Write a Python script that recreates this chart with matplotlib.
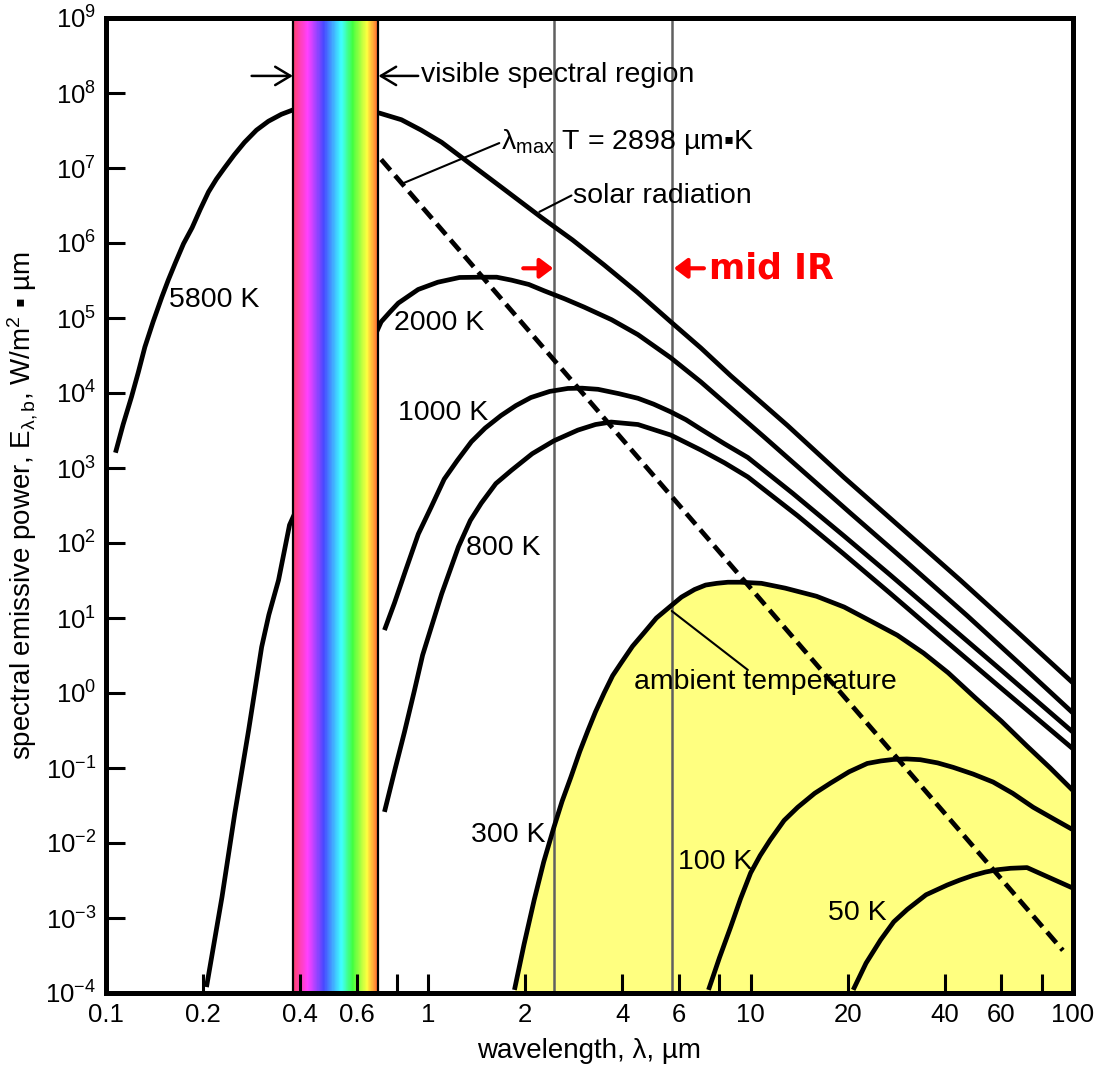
import numpy as np
import matplotlib
matplotlib.use('Agg')
import matplotlib.pyplot as plt
from matplotlib.colors import LinearSegmentedColormap
from matplotlib.ticker import NullLocator

plt.rcParams['font.family'] = ['Liberation Sans', 'DejaVu Sans']
plt.rcParams['mathtext.fontset'] = 'custom'
plt.rcParams['mathtext.rm'] = 'Liberation Sans'
plt.rcParams['mathtext.it'] = 'Liberation Sans:italic'
plt.rcParams['mathtext.default'] = 'regular'

# blackbody curves: wavelength (um) / emissive power (W/m2 um)
t5800_x = [0.107, 0.113, 0.120, 0.126, 0.132, 0.140, 0.149, 0.156, 0.164, 0.174, 0.185,
           0.196, 0.208, 0.220, 0.233, 0.250, 0.269, 0.293, 0.319, 0.350, 0.382,
           0.705, 0.825, 0.95, 1.10, 1.265, 1.68, 2.24, 2.8, 3.51, 4.45, 5.65, 7.0, 8.67,
           13, 19.4, 29.5, 44.7, 67, 100]
t5800_y = [1.6e3, 3.8e3, 8.9e3, 1.9e4, 4.1e4, 8.9e4, 1.9e5, 3.2e5, 5.4e5, 9.8e5, 1.6e6,
           2.8e6, 4.8e6, 7.1e6, 1.0e7, 1.5e7, 2.2e7, 3.2e7, 4.2e7, 5.2e7, 6.0e7,
           5.4e7, 4.4e7, 3.2e7, 2.2e7, 1.4e7, 5.6e6, 2.2e6, 1.1e6, 5.1e5, 2.2e5, 8.9e4, 4.0e4, 1.7e4,
           3.7e3, 7.6e2, 155, 32, 6.6, 1.36]

t2000_x = [0.205, 0.229, 0.251, 0.277, 0.304, 0.320, 0.343, 0.371,
           0.714, 0.76, 0.807, 0.93, 1.07, 1.25, 1.46, 1.63, 1.81, 2.05, 2.29, 2.65, 3.04,
           3.7, 4.47, 5.65, 7.0, 11, 20.4, 30, 47, 68, 100]
t2000_y = [1.2e-4, 1.9e-3, 0.025, 0.32, 4.1, 11, 32, 174,
           8.9e4, 1.2e5, 1.58e5, 2.4e5, 3.0e5, 3.47e5, 3.5e5, 3.5e5, 3.2e5, 2.8e5, 2.3e5, 1.8e5, 1.4e5,
           9.5e4, 6.0e4, 2.95e4, 1.41e4, 2.6e3, 2.5e2, 59, 10.7, 2.5, 0.54]

t1000_x = [0.731, 0.785, 0.85, 0.931, 1.02, 1.12, 1.23, 1.36, 1.5, 1.68, 1.87, 2.08, 2.38, 2.71,
           3.0, 3.36, 3.9, 4.47, 5.0, 5.65, 6.3, 7.0, 8.3, 9.8, 13.5, 19.4, 27, 36.9, 60, 100]
t1000_y = [6.9, 15.8, 43, 132, 300, 710, 1.26e3, 2.24e3, 3.4e3, 5.0e3, 6.8e3, 8.7e3, 1.05e4, 1.15e4,
           1.16e4, 1.12e4, 9.8e3, 8.5e3, 7.1e3, 5.6e3, 4.4e3, 3.3e3, 2.1e3, 1.38e3, 460, 126, 38, 12, 2.0, 0.30]

t800_x = [0.731, 0.79, 0.843, 0.905, 0.96, 1.1, 1.24, 1.35, 1.46, 1.62, 1.81, 2.1, 2.45, 2.91,
          3.3, 3.69, 4.47, 5.65, 7.0, 8.3, 9.8, 14, 19.4, 27, 36.9, 60, 100]
t800_y = [0.026, 0.10, 0.30, 1.07, 3.2, 21, 89, 200, 340, 620, 930, 1.55e3, 2.3e3, 3.2e3,
          3.8e3, 4.1e3, 3.8e3, 2.75e3, 1.74e3, 1.17e3, 760, 230, 72, 21.6, 6.8, 1.15, 0.18]

t300_x = [1.85, 1.98, 2.13, 2.28, 2.45, 2.6, 2.77, 2.95, 3.13, 3.3, 3.51, 3.73, 3.96, 4.3, 4.66,
          5.1, 5.6, 6.1, 6.7, 7.25, 7.85, 8.5, 9.3, 10.8, 12.8, 16.0, 19.5, 23.7, 28.5, 34.4,
          41, 49.8, 60, 72, 85, 100]
t300_y = [1.1e-4, 4.4e-4, 1.74e-3, 5.6e-3, 0.016, 0.036, 0.076, 0.166, 0.32, 0.56, 1.0, 1.7, 2.5, 4.2, 6.3,
          10, 14, 19, 24, 27.5, 29, 30, 30, 29, 25, 19.5, 14, 9.0, 5.9, 3.4,
          1.86, 0.86, 0.42, 0.196, 0.10, 0.05]

t100_x = [7.4, 8.0, 8.67, 9.3, 10.0, 10.7, 11.5, 12.7, 14.0, 15.8, 17.7, 20.2, 23.0, 25.3, 27.7,
          30.5, 33.6, 38, 42.5, 49, 56.5, 65, 75.2, 87, 100]
t100_y = [1.1e-4, 2.95e-4, 7.6e-4, 1.8e-3, 4.0e-3, 6.8e-3, 0.011, 0.020, 0.030, 0.046, 0.063, 0.089,
          0.115, 0.124, 0.130, 0.132, 0.129, 0.117, 0.102, 0.083, 0.065, 0.046, 0.030, 0.021, 0.015]

t50_x = [20.8, 22.8, 25.3, 27.8, 30.6, 35, 40.7, 44.5, 49, 53.5, 58.2, 64, 72, 100]
t50_y = [1.1e-4, 2.5e-4, 5.1e-4, 8.9e-4, 1.3e-3, 2.04e-3, 2.75e-3, 3.2e-3, 3.7e-3, 4.1e-3,
         4.4e-3, 4.6e-3, 4.7e-3, 2.5e-3]

# Wien displacement line (lambda_max T = 2898 um K)
wien_x = [0.714, 93]
wien_y = [1.3e7, 3.7e-4]

vis_lo, vis_hi = 0.38, 0.70
midir_x = [2.45, 5.7]

vis_stops = [0.0, 0.17, 0.36, 0.50, 0.57, 0.70, 0.87, 1.0]
vis_cols = ['#ff4070', '#ff40ff', '#4848ff', '#40c8ff', '#40ffff', '#40ff40', '#ffff40', '#ff6030']

xt = [0.1, 0.2, 0.4, 0.6, 0.8, 1, 2, 4, 6, 8, 10, 20, 40, 60, 80, 100]
xl = ['0.1', '0.2', '0.4', '0.6', '', '1', '2', '4', '6', '', '10', '20', '40', '60', '', '100']
yexp = list(range(-4, 10))

fig = plt.figure(figsize=(11.07, 10.70), dpi=100)
ax = fig.add_axes([106 / 1107, 1 - 993 / 1070, (1073 - 106) / 1107, (993 - 18) / 1070])
ax.set_xscale('log')
ax.set_yscale('log')
ax.set_xlim(0.1, 100)
ax.set_ylim(1e-4, 1e9)

# ambient temperature region
ax.fill_between(t300_x, t300_y, 1e-4, color='#ffff80', lw=0, zorder=1)
for xv in midir_x:
    ax.axvline(xv, color='#606060', lw=1.8, zorder=2)

for cx, cy in [(t5800_x, t5800_y), (t2000_x, t2000_y), (t1000_x, t1000_y), (t800_x, t800_y),
               (t300_x, t300_y), (t100_x, t100_y), (t50_x, t50_y)]:
    ax.plot(cx, cy, color='k', lw=3.4, zorder=3, solid_joinstyle='round', solid_capstyle='butt')
ax.plot(wien_x, wien_y, color='k', lw=3.4, dashes=(3.0, 1.5), zorder=3)

# visible band
cmap = LinearSegmentedColormap.from_list('vis', list(zip(vis_stops, vis_cols)))
edges = np.geomspace(vis_lo, vis_hi, 161)
ax.pcolormesh(edges, [1e-4, 1e9], np.linspace(0, 1, 160)[None, :], cmap=cmap, zorder=4, shading='flat')
ax.axvline(vis_lo, color='k', lw=1.6, zorder=4.1)
ax.axvline(vis_hi, color='k', lw=1.6, zorder=4.1)

ax.set_xticks(xt)
ax.set_xticklabels(xl)
ax.set_yticks([10.0 ** k for k in yexp])
ax.set_yticklabels([r'$\mathregular{10^{%d}}$' % k for k in yexp])
ax.xaxis.set_minor_locator(NullLocator())
ax.yaxis.set_minor_locator(NullLocator())
ax.tick_params(direction='in', length=14, width=2.2, labelsize=18.5, pad=7, top=False, right=False)
for s in ax.spines.values():
    s.set_linewidth(3.6)
    s.set_zorder(6)
ax.xaxis.set_zorder(5)
ax.yaxis.set_zorder(5)

ax.set_xlabel('wavelength, λ, µm', fontsize=20, labelpad=8)
ax.set_ylabel(r'spectral emissive power, E$_{\lambda,b}$, W/m$^{2}$ ▪ µm', fontsize=20, labelpad=4)

line = dict(arrowstyle='-', color='k', lw=1.5, shrinkA=0, shrinkB=0)
arr = dict(arrowstyle='->,head_length=0.5,head_width=0.3', color='k', lw=1.8,
           mutation_scale=22, shrinkA=0, shrinkB=0)
red = dict(arrowstyle='-|>,head_length=0.4,head_width=0.3', color='red', lw=3.0,
           mutation_scale=20, shrinkA=0, shrinkB=0)

ax.annotate('', xy=(vis_lo, 1.69e8), xytext=(0.283, 1.69e8), arrowprops=arr, zorder=7)
ax.annotate('', xy=(vis_hi, 1.69e8), xytext=(0.93, 1.69e8), arrowprops=arr, zorder=7)
ax.text(0.95, 1.75e8, 'visible spectral region', fontsize=20.5, va='center')

ax.annotate('', xy=(0.838, 6.3e6), xytext=(1.66, 2.15e7), arrowprops=line)
ax.text(1.68, 2.2e7, r'λ$_{max}$ T = 2898 µm▪K', fontsize=20.5, va='center')

ax.annotate('', xy=(2.21, 2.6e6), xytext=(2.78, 4.3e6), arrowprops=line)
ax.text(2.81, 4.2e6, 'solar radiation', fontsize=20.5, va='center')

ax.annotate('', xy=(2.44, 4.6e5), xytext=(1.97, 4.6e5), arrowprops=red)
ax.annotate('', xy=(5.78, 4.6e5), xytext=(7.16, 4.6e5), arrowprops=red)
ax.text(7.41, 4.6e5, 'mid IR', fontsize=25, color='red', fontweight='bold',
        family='DejaVu Sans', va='center')

ax.annotate('', xy=(5.69, 12.4), xytext=(9.8, 2.03), arrowprops=line, zorder=4)
ax.text(4.34, 1.4, 'ambient temperature', fontsize=20.5, va='center', zorder=4)

for lbl, lx, ly in [('5800 K', 0.157, 1.73e5), ('2000 K', 0.78, 8.6e4), ('1000 K', 0.807, 5.4e3),
                    ('800 K', 1.31, 86), ('300 K', 1.36, 0.0128), ('100 K', 5.94, 5.6e-3),
                    ('50 K', 17.4, 1.17e-3)]:
    ax.text(lx, ly, lbl, fontsize=20.5, va='center', zorder=4)

fig.savefig('out.png', dpi=100)
